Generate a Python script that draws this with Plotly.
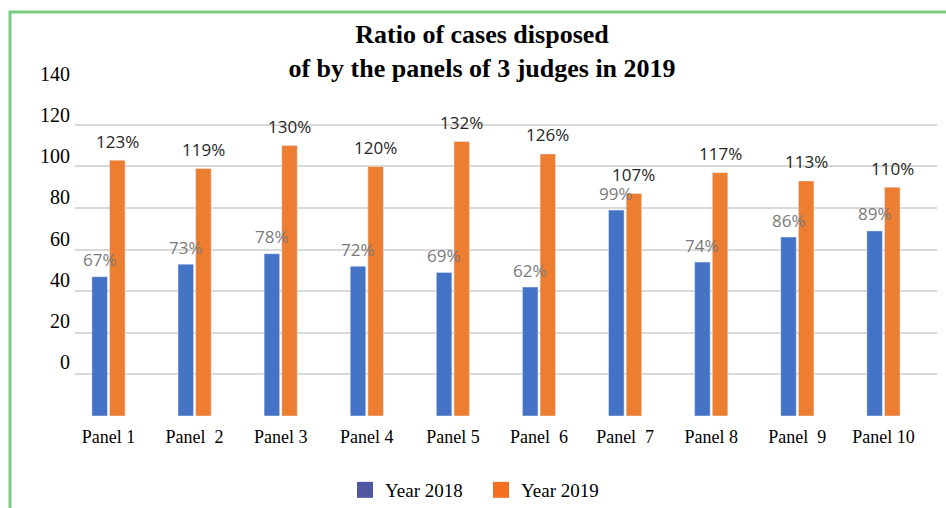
import plotly.graph_objects as go

# Disposal ratios (%) for each three-judge panel
panels = ["Panel 1", "Panel \u00a02", "Panel 3", "Panel 4", "Panel 5",
          "Panel \u00a06", "Panel \u00a07", "Panel 8", "Panel \u00a09", "Panel 10"]
year_2018 = [67, 73, 78, 72, 69, 62, 99, 74, 86, 89]
year_2019 = [123, 119, 130, 120, 132, 126, 107, 117, 113, 110]
y_ticks = [0, 20, 40, 60, 80, 100, 120, 140]

BLUE = "#4472C4"
ORANGE = "#ED7D31"
SERIF = "Liberation Serif"
SANS = "Open Sans"

W, H = 946, 508
ML, MR, MT, MB = 75, 9, 65, 92
PW, PH = W - ML - MR, H - MT - MB

fig = go.Figure()
fig.add_trace(go.Bar(x=panels, y=year_2018, marker_color=BLUE, showlegend=False))
fig.add_trace(go.Bar(x=panels, y=year_2019, marker_color=ORANGE, showlegend=False))

# Legend entries with larger square swatches
fig.add_trace(go.Scatter(x=[None], y=[None], mode="markers", name="Year 2018",
                         marker=dict(symbol="square", size=16, color="#4F58A0")))
fig.add_trace(go.Scatter(x=[None], y=[None], mode="markers", name="Year 2019",
                         marker=dict(symbol="square", size=16, color="#F37021")))

# Value labels above each bar
annotations = []
for i, (a, b) in enumerate(zip(year_2018, year_2019)):
    annotations.append(dict(x=i, y=a, xref="x", yref="y", text=f"{a}%", showarrow=False,
                            xshift=-8.8, yshift=17, yanchor="middle",
                            font=dict(family=SANS, size=17, color="#7a7a7a")))
    annotations.append(dict(x=i, y=b, xref="x", yref="y", text=f"{b}%", showarrow=False,
                            xshift=8.8, yshift=19, yanchor="middle",
                            font=dict(family=SANS, size=17, color="#262626")))

def px_x(p):
    return (p - ML) / PW

def px_y(p):
    return (H - MB - p) / PH

# Green frame around the chart
shapes = [dict(type="rect", xref="paper", yref="paper",
               x0=px_x(10), x1=px_x(955), y0=px_y(520), y1=px_y(12),
               line=dict(color="#7CCB83", width=3), fillcolor="rgba(0,0,0,0)", layer="above")]

fig.update_layout(
    width=W, height=H,
    margin=dict(l=ML, r=MR, t=MT, b=MB, autoexpand=False),
    paper_bgcolor="white", plot_bgcolor="white",
    barmode="group", bargap=0.59, bargroupgap=0.12,
    title=dict(text="<b>Ratio of cases disposed<br>of by the panels of 3 judges in 2019</b>",
               x=482 / W, xref="container", xanchor="center",
               y=1 - 43 / H, yref="container", yanchor="top",
               font=dict(family=SERIF, size=26, color="black")),
    xaxis=dict(type="category", range=[-0.389, 9.622], showgrid=False, zeroline=False,
               showline=False, ticks="", ticklabelstandoff=8, automargin=False,
               tickfont=dict(family=SERIF, size=18, color="black")),
    yaxis=dict(range=[0, PH / 2.08], tickvals=y_ticks, showticklabels=False, automargin=False,
               showgrid=True, gridcolor="#D9D9D9", gridwidth=2, zeroline=False, showline=False),
    yaxis2=dict(overlaying="y", side="left", range=[-26.25, -26.25 + PH / 2.057],
                tickvals=y_ticks, showgrid=False, zeroline=False, showline=False, ticks="",
                automargin=False, ticklabelstandoff=4,
                tickfont=dict(family=SERIF, size=20, color="black")),
    legend=dict(orientation="h", x=px_x(481), xanchor="center", y=px_y(490), yanchor="middle",
                entrywidth=91, entrywidthmode="pixels",
                font=dict(family=SERIF, size=19, color="black")),
    annotations=annotations,
    shapes=shapes,
)

# Dummy trace so the secondary tick-label axis is rendered
fig.add_trace(go.Scatter(x=[None], y=[None], yaxis="y2", showlegend=False, hoverinfo="skip"))

fig.write_html("out.html")
